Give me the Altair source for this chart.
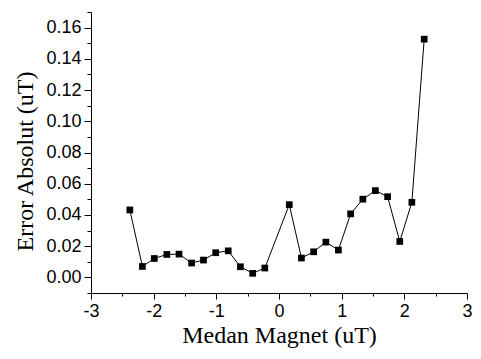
import altair as alt
import pandas as pd

medan = [-2.38, -2.18, -1.99, -1.79, -1.595, -1.395, -1.205, -1.01, -0.81, -0.616,
         -0.42, -0.226, 0.164, 0.358, 0.553, 0.748, 0.948, 1.143, 1.338, 1.538,
         1.733, 1.927, 2.12, 2.317]
error = [0.0432, 0.0070, 0.0121, 0.0147, 0.0149, 0.0092, 0.0111, 0.0158, 0.0170, 0.0068,
         0.0026, 0.0060, 0.0466, 0.0124, 0.0164, 0.0226, 0.0175, 0.0407, 0.0501, 0.0556,
         0.0517, 0.0230, 0.0481, 0.1526]

x_major = [-3, -2, -1, 0, 1, 2, 3]
x_minor = [-2.5, -1.5, -0.5, 0.5, 1.5, 2.5]
y_major = [0.00, 0.02, 0.04, 0.06, 0.08, 0.10, 0.12, 0.14, 0.16]
y_minor = [-0.01, 0.01, 0.03, 0.05, 0.07, 0.09, 0.11, 0.13, 0.15, 0.17]

df = pd.DataFrame({"x": medan, "y": error})

xs = alt.Scale(domain=[-3, 3], nice=False, zero=False)
ys = alt.Scale(domain=[-0.01, 0.17], nice=False, zero=False)

label_font = "Liberation Sans"
title_font = "Liberation Serif"

x_axis_major = alt.Axis(values=x_major, labelExpr="datum.value + ''", title="Medan Magnet (uT)",
                        orient="bottom",
                        tickSize=6, labelFontSize=18, labelFont=label_font, labelColor="black",
                        titleFont=title_font, titleFontSize=24, titleFontWeight="normal",
                        titleColor="black", titlePadding=3, labelPadding=3,
                        domainColor="black", tickColor="black", grid=False,
                        labelFlush=False)
y_axis_major = alt.Axis(values=y_major, format=".2f", title="Error Absolut (uT)", orient="left",
                        tickSize=7, labelFontSize=18, labelFont=label_font, labelColor="black",
                        titleFont=title_font, titleFontSize=24, titleFontWeight="normal",
                        titleColor="black", titlePadding=8, labelPadding=3, titleY=149,
                        domainColor="black", tickColor="black", grid=False,
                        labelFlush=False)
x_axis_minor = alt.Axis(values=x_minor, labels=False, title=None, orient="bottom", tickSize=3,
                        domain=False, tickColor="black", grid=False)
y_axis_minor = alt.Axis(values=y_minor, labels=False, title=None, orient="left", tickSize=4,
                        domain=False, tickColor="black", grid=False)

line = alt.Chart(df).mark_line(color="black", strokeWidth=1).encode(
    x=alt.X("x:Q", scale=xs, axis=x_axis_major),
    y=alt.Y("y:Q", scale=ys, axis=y_axis_major),
)
points = alt.Chart(df).mark_point(shape="square", filled=True, color="black", size=45, opacity=1).encode(
    x=alt.X("x:Q", scale=xs, axis=x_axis_minor),
    y=alt.Y("y:Q", scale=ys, axis=y_axis_minor),
)

chart = alt.layer(line, points).resolve_axis(x="independent", y="independent").properties(
    width=376, height=281,
    autosize=alt.AutoSizeParams(type="none"),
    padding={"left": 83, "top": 4, "right": 6, "bottom": 58},
).configure_view(stroke=None).configure_axis(domainWidth=1, tickWidth=1)

chart.save("out.html", embed_options={"renderer": "svg", "actions": False})
